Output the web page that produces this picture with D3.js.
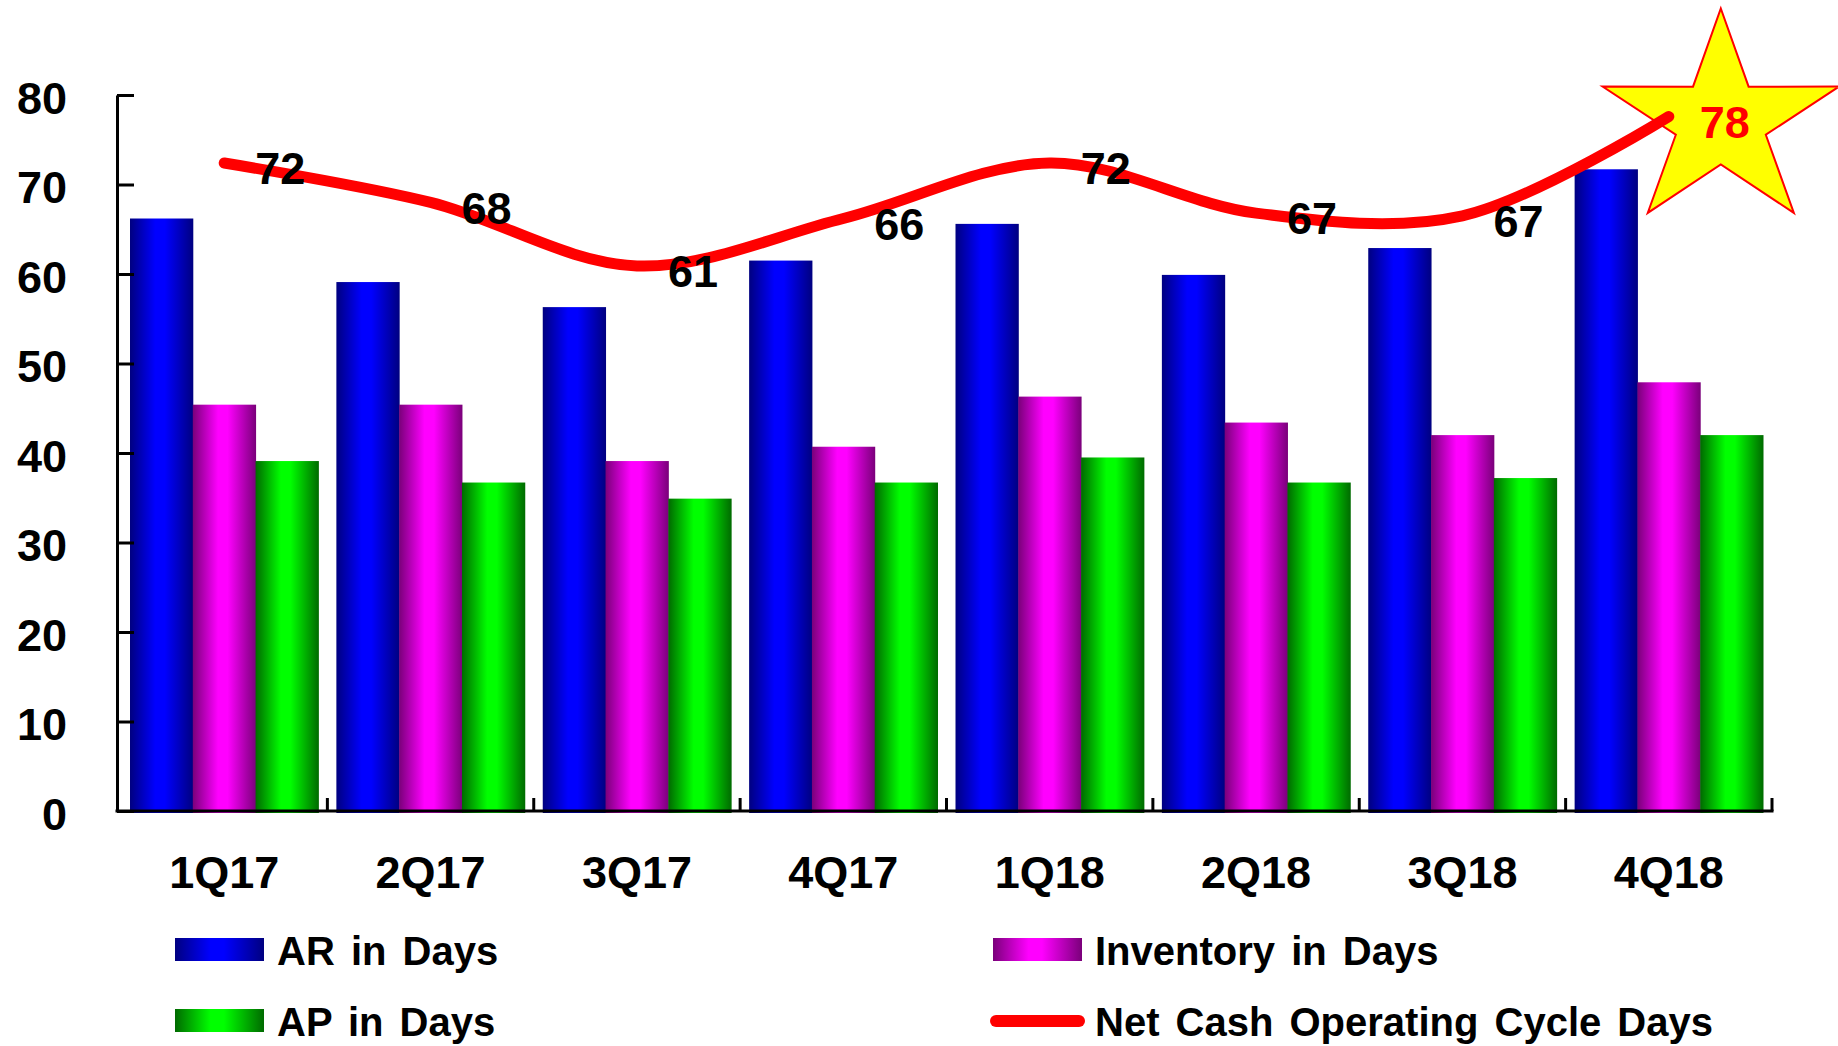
<!DOCTYPE html>
<html>
<head>
<meta charset="utf-8">
<script src="https://cdn.jsdelivr.net/npm/d3@7"></script>
<style>
  body { margin: 0; background: #fff; }
  svg { display: block; font-family: "Liberation Sans", Arial, sans-serif; font-weight: bold; }
</style>
</head>
<body>
<svg width="1838" height="1046"></svg>
<script>
var quarters = ["1Q17", "2Q17", "3Q17", "4Q17", "1Q18", "2Q18", "3Q18", "4Q18"];
var arDays = [66.2, 59.1, 56.3, 61.5, 65.6, 59.9, 62.9, 71.7];
var invDays = [45.4, 45.4, 39.1, 40.7, 46.3, 43.4, 42.0, 47.9];
var apDays = [39.1, 36.7, 34.9, 36.7, 39.5, 36.7, 37.2, 42.0];
var cycleDays = [72.4, 68.0, 60.9, 66.2, 72.4, 66.8, 66.5, 77.6];
var yTicks = [0, 10, 20, 30, 40, 50, 60, 70, 80];

var series = [
  { key: "ar", name: "AR in Days", values: arDays, dark: "#000080", bright: "#0000ff" },
  { key: "inv", name: "Inventory in Days", values: invDays, dark: "#7a007a", bright: "#ff00ff" },
  { key: "ap", name: "AP in Days", values: apDays, dark: "#006a00", bright: "#00ff00" }
];

var svg = d3.select("svg");
var defs = svg.append("defs");

series.forEach(function(s) {
  var g = defs.append("linearGradient")
      .attr("id", "grad-" + s.key)
      .attr("x1", 0).attr("x2", 1).attr("y1", 0).attr("y2", 0);
  g.append("stop").attr("offset", 0).attr("stop-color", s.dark);
  g.append("stop").attr("offset", 0.4).attr("stop-color", s.bright);
  g.append("stop").attr("offset", 0.55).attr("stop-color", s.bright);
  g.append("stop").attr("offset", 1).attr("stop-color", s.dark);
});

var x0 = d3.scaleBand().domain(quarters).range([121, 1772]).padding(0);
var x1 = d3.scaleBand().domain(series.map(function(s) { return s.key; }))
    .range([9, x0.bandwidth() - 9]).padding(0);
var y = d3.scaleLinear().domain([0, 80]).range([811, 95]);

// bars
var groups = svg.append("g").selectAll("g")
  .data(quarters)
  .enter().append("g")
  .attr("transform", function(d) { return "translate(" + x0(d) + ",0)"; });

groups.selectAll("rect")
  .data(function(d, i) {
    return series.map(function(s) { return { key: s.key, value: s.values[i] }; });
  })
  .enter().append("rect")
  .attr("x", function(d) { return x1(d.key); })
  .attr("width", x1.bandwidth() + 0.5)
  .attr("y", function(d) { return y(d.value); })
  .attr("height", function(d) { return y(0) - y(d.value) + 2; })
  .attr("fill", function(d) { return "url(#grad-" + d.key + ")"; });

// y axis
var yAxis = svg.append("g")
  .attr("transform", "translate(117,0)")
  .call(d3.axisLeft(y).tickValues(yTicks).tickSizeInner(-17).tickSizeOuter(0).tickPadding(50));
yAxis.select(".domain").attr("stroke", "#000").attr("stroke-width", 3);
yAxis.selectAll(".tick line").attr("stroke", "#000").attr("stroke-width", 3);
yAxis.selectAll(".tick text")
  .attr("fill", "#000")
  .style("font-size", "45px")
  .style("font-family", "'Liberation Sans', Arial, sans-serif")
  .style("font-weight", "bold")
  .attr("dy", "0.4em");

// x axis
var xAxis = svg.append("g");
xAxis.append("line")
  .attr("x1", 115.5).attr("x2", x0.range()[1] + 1.5)
  .attr("y1", y(0)).attr("y2", y(0))
  .attr("stroke", "#000").attr("stroke-width", 3);
var bounds = quarters.slice(1).map(function(q) { return x0(q); }).concat([x0.range()[1]]);
xAxis.selectAll(".xtick")
  .data(bounds)
  .enter().append("line")
  .attr("class", "xtick")
  .attr("x1", function(d) { return d; }).attr("x2", function(d) { return d; })
  .attr("y1", y(0)).attr("y2", y(0) - 13)
  .attr("stroke", "#000").attr("stroke-width", 3);
xAxis.selectAll(".xlabel")
  .data(quarters)
  .enter().append("text")
  .attr("class", "xlabel")
  .attr("x", function(d) { return x0(d) + x0.bandwidth() / 2; })
  .attr("y", 888)
  .attr("text-anchor", "middle")
  .style("font-size", "45px")
  .text(function(d) { return d; });

// star behind last label
var lastI = quarters.length - 1;
var starCx = x0(quarters[lastI]) + x0.bandwidth() / 2 + 52;
var starCy = y(cycleDays[lastI]) + 5;
var starPts = [];
for (var k = 0; k < 10; k++) {
  var r = (k % 2 === 0) ? 113 : 43;
  var a = -Math.PI / 2 + k * Math.PI / 5;
  starPts.push([starCx + Math.cos(a) * r * 1.1, starCy + Math.sin(a) * r]);
}
svg.append("polygon")
  .attr("points", starPts.map(function(p) { return p.join(","); }).join(" "))
  .attr("fill", "#ffff00")
  .attr("stroke", "#ff0000")
  .attr("stroke-width", 2);

// line
var line = d3.line()
  .x(function(d, i) { return x0(quarters[i]) + x0.bandwidth() / 2; })
  .y(function(d) { return y(d); })
  .curve(d3.curveCatmullRom.alpha(0.5));

svg.append("path")
  .datum(cycleDays)
  .attr("d", line)
  .attr("fill", "none")
  .attr("stroke", "#ff0000")
  .attr("stroke-width", 11)
  .attr("stroke-linecap", "round")
  .attr("stroke-linejoin", "round");

svg.append("g").selectAll("text")
  .data(cycleDays)
  .enter().append("text")
  .attr("x", function(d, i) { return x0(quarters[i]) + x0.bandwidth() / 2 + 56; })
  .attr("y", function(d) { return y(d) + 5; })
  .attr("dy", "0.36em")
  .attr("text-anchor", "middle")
  .attr("fill", function(d, i) { return i === lastI ? "#ff0000" : "#000"; })
  .style("font-size", "45px")
  .text(function(d) { return d3.format(".0f")(d); });

// legend
var legend = [
  { name: series[0].name, type: "bar", key: "ar", x: 175, y: 950 },
  { name: series[1].name, type: "bar", key: "inv", x: 993, y: 950 },
  { name: series[2].name, type: "bar", key: "ap", x: 175, y: 1021 },
  { name: "Net Cash Operating Cycle Days", type: "line", x: 993, y: 1021 }
];
var lg = svg.append("g").selectAll("g")
  .data(legend)
  .enter().append("g")
  .attr("transform", function(d) { return "translate(" + d.x + "," + d.y + ")"; });

lg.filter(function(d) { return d.type === "bar"; })
  .append("rect")
  .attr("x", 0).attr("y", -12)
  .attr("width", 89).attr("height", 23)
  .attr("fill", function(d) { return "url(#grad-" + d.key + ")"; });

lg.filter(function(d) { return d.type === "line"; })
  .append("line")
  .attr("x1", 3).attr("x2", 86).attr("y1", 0).attr("y2", 0)
  .attr("stroke", "#ff0000").attr("stroke-width", 12).attr("stroke-linecap", "round");

lg.append("text")
  .attr("x", function(d) { return d.type === "bar" && d.key !== "inv" ? 102 : 102; })
  .attr("y", 15)
  .style("font-size", "40px")
  .style("word-spacing", "5px")
  .text(function(d) { return d.name; });
</script>
</body>
</html>
